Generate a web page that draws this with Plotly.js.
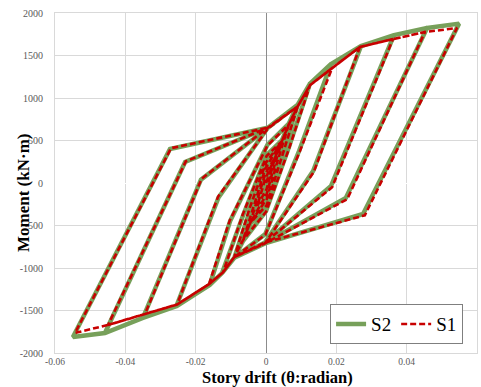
<!DOCTYPE html>
<html>
<head>
<meta charset="utf-8">
<script src="https://cdn.plot.ly/plotly-3.0.1.min.js"></script>
<style>html,body{margin:0;padding:0;background:#fff;}#chart{width:481px;height:387px;}</style>
</head>
<body>
<div id="chart"></div>
<script>
// ---- Tick labels ----
const xTickVals = [-0.06, -0.04, -0.02, 0, 0.02, 0.04, 0.06];
const xTickText = ["-0.06", "-0.04", "-0.02", "0", "0.02", "0.04", "0.06"];
const yTickVals = [-2000, -1500, -1000, -500, 0, 500, 1000, 1500, 2000];
const yTickText = ["-2000", "-1500", "-1000", "-500", "0", "500", "1000", "1500", "2000"];
const xTitle = "Story drift (θ:radian)";
const yTitle = "Moment (kN·m)";

// ---- S2 (green): per-cycle key points ----
const s2PosPeakX = [0.0025, 0.0045, 0.0065, 0.009, 0.0125, 0.0185, 0.027, 0.0364, 0.0458, 0.0549];
const s2PosPeakY = [300, 500, 700, 920, 1170, 1400, 1610, 1740, 1823, 1875];
const s2PosKinkX = [0.0012, 0.002, 0.003, 0.0045, 0.0065, 0.0094, 0.0134, 0.0185, 0.0227, 0.0276];
const s2PosKinkY = [100, 160, 230, 330, 420, 376, 141, -35, -176, -365];
const s2NegZeroX = [0.0002, 0.0002, 0.0002, 0.0002, 0.0, -0.0002, -0.0003, -0.0003, -0.0003, -0.0003];
const s2NegZeroY = [-60, -120, -180, -250, -330, -600, -700, -700, -705, -710];
const s2NegPeakX = [-0.0025, -0.0045, -0.0065, -0.009, -0.0125, -0.016, -0.0255, -0.035, -0.0458, -0.0549];
const s2NegPeakY = [-280, -480, -680, -880, -1060, -1200, -1450, -1588, -1765, -1811];
const s2NegKinkX = [-0.0012, -0.002, -0.003, -0.0045, -0.0065, -0.0102, -0.0135, -0.0185, -0.023, -0.0273];
const s2NegKinkY = [-90, -150, -220, -300, -380, -447, -170, 40, 247, 400];
const s2PosZeroX = [-0.0002, -0.0002, -0.0002, 0.0, 0.0002, 0.0004, 0.0005, 0.0005, 0.0005, 0.0005];
const s2PosZeroY = [60, 120, 180, 250, 330, 450, 650, 650, 650, 650];

// ---- S1 (red dashed) ----
const s1PosPeakX = [0.0025, 0.0045, 0.0065, 0.009, 0.0125, 0.0188, 0.0267, 0.0361, 0.0452, 0.0543];
const s1PosPeakY = [290, 490, 690, 900, 1150, 1352, 1600, 1693, 1776, 1823];
const s1PosKinkX = [0.0012, 0.002, 0.003, 0.0046, 0.0066, 0.0096, 0.0136, 0.0188, 0.0231, 0.0281];
const s1PosKinkY = [90, 150, 220, 320, 410, 370, 130, -50, -190, -380];
const s1NegZeroX = [0.0002, 0.0002, 0.0002, 0.0002, 0.0, -0.0002, -0.0003, -0.0003, -0.0003, -0.0003];
const s1NegZeroY = [-70, -130, -190, -260, -340, -610, -710, -700, -710, -700];
const s1NegPeakX = [-0.0025, -0.0045, -0.0065, -0.009, -0.0122, -0.0162, -0.0253, -0.0344, -0.0449, -0.0543];
const s1NegPeakY = [-270, -470, -670, -870, -1050, -1190, -1430, -1540, -1670, -1764];
const s1NegKinkX = [-0.0012, -0.002, -0.003, -0.0046, -0.0066, -0.0103, -0.0136, -0.0183, -0.0228, -0.027];
const s1NegKinkY = [-80, -140, -210, -290, -370, -440, -160, 50, 255, 410];
const s1PosZeroX = [-0.0002, -0.0002, -0.0002, 0.0, 0.0002, 0.0004, 0.0005, 0.0005, 0.0005, 0.0005];
const s1PosZeroY = [50, 110, 170, 240, 320, 440, 640, 650, 650, 650];

// Assemble the continuous hysteresis path from the key points above
function buildPath(pPX, pPY, pKX, pKY, nZX, nZY, nPX, nPY, nKX, nKY, pZX, pZY) {
  const x = [0], y = [0];
  let zero = 0;
  for (let i = 0; i < pPX.length; i++) {
    for (let j = 0; j < i; j++) {
      if (pPY[j] > zero + 150 && pPX[j] < pPX[i]) { x.push(pPX[j]); y.push(pPY[j]); }
    }
    x.push(pPX[i]); y.push(pPY[i]);
    x.push(pKX[i]); y.push(pKY[i]);
    x.push(nZX[i]); y.push(nZY[i]);
    for (let j = 0; j < i; j++) {
      if (nPY[j] < nZY[i] - 150 && nPX[j] > nPX[i]) { x.push(nPX[j]); y.push(nPY[j]); }
    }
    x.push(nPX[i]); y.push(nPY[i]);
    x.push(nKX[i]); y.push(nKY[i]);
    x.push(pZX[i]); y.push(pZY[i]);
    zero = pZY[i];
  }
  return {x, y};
}

const s2 = buildPath(s2PosPeakX, s2PosPeakY, s2PosKinkX, s2PosKinkY, s2NegZeroX, s2NegZeroY,
                     s2NegPeakX, s2NegPeakY, s2NegKinkX, s2NegKinkY, s2PosZeroX, s2PosZeroY);
const s1 = buildPath(s1PosPeakX, s1PosPeakY, s1PosKinkX, s1PosKinkY, s1NegZeroX, s1NegZeroY,
                     s1NegPeakX, s1NegPeakY, s1NegKinkX, s1NegKinkY, s1PosZeroX, s1PosZeroY);

const serif = "'Liberation Serif', 'Times New Roman', serif";

const traces = [
  {x: s2.x, y: s2.y, name: 'S2', type: 'scatter', mode: 'lines',
   line: {color: '#77A05A', width: 4.5}},
  {x: s1.x, y: s1.y, name: 'S1', type: 'scatter', mode: 'lines',
   line: {color: '#C80000', width: 2.6, dash: '6px,3px'}}
];

const layout = {
  width: 481, height: 387,
  margin: {l: 55, r: 4, t: 13, b: 34, pad: 0},
  paper_bgcolor: '#ffffff', plot_bgcolor: '#ffffff',
  font: {family: serif, color: '#595959', size: 10},
  showlegend: true,
  legend: {
    orientation: 'h', x: 0.967, y: 0.026, xanchor: 'right', yanchor: 'bottom',
    bgcolor: '#ffffff', bordercolor: '#7f7f7f', borderwidth: 1,
    font: {family: serif, size: 19, color: '#000000'},
    tracegroupgap: 0, itemwidth: 30
  },
  xaxis: {
    range: [-0.06, 0.06], tickmode: 'array', tickvals: xTickVals, ticktext: xTickText,
    showgrid: true, gridcolor: '#d9d9d9', gridwidth: 1,
    zeroline: true, zerolinecolor: '#8c8c8c', zerolinewidth: 1,
    showline: true, linecolor: '#d9d9d9', linewidth: 1, mirror: true,
    ticks: '', ticklabelstandoff: 0,
    tickfont: {family: serif, size: 9.5, color: '#595959'}
  },
  yaxis: {
    range: [-2000, 2000], tickmode: 'array', tickvals: yTickVals, ticktext: yTickText,
    showgrid: true, gridcolor: '#d9d9d9', gridwidth: 1,
    zeroline: true, zerolinecolor: '#ffffff', zerolinewidth: 1,
    showline: true, linecolor: '#d9d9d9', linewidth: 1, mirror: true,
    ticks: '', ticklabelstandoff: 9,
    tickfont: {family: serif, size: 10, color: '#595959'}
  },
  annotations: [
    {text: '<b>' + xTitle + '</b>', xref: 'paper', yref: 'paper', x: 0.527, y: 0,
     xanchor: 'center', yanchor: 'middle', yshift: -24, showarrow: false,
     font: {family: serif, size: 16.5, color: '#000000'}},
    {text: '<b>' + yTitle + '</b>', xref: 'paper', yref: 'paper', x: 0, y: 0.5,
     xanchor: 'center', yanchor: 'middle', xshift: -32, yshift: -10, textangle: -90, showarrow: false,
     font: {family: serif, size: 17, color: '#000000'}}
  ]
};

Plotly.newPlot('chart', traces, layout, {displayModeBar: false, staticPlot: true});
</script>
</body>
</html>
